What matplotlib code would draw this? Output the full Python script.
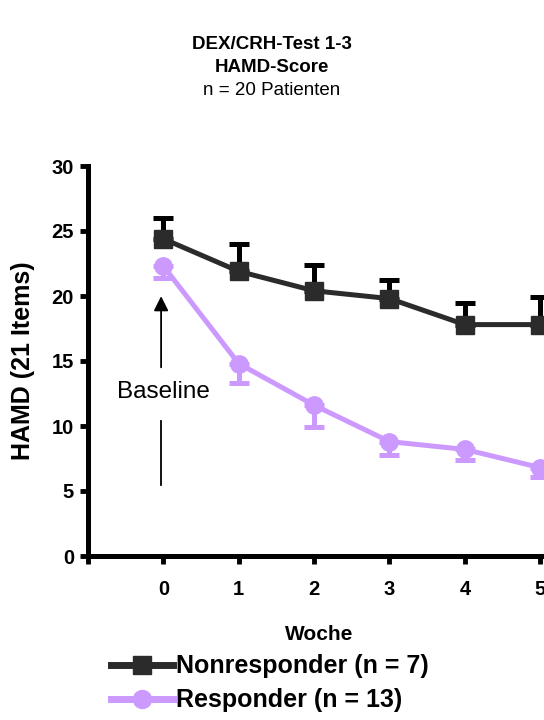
import matplotlib
matplotlib.use("Agg")
import matplotlib.pyplot as plt
from matplotlib.lines import Line2D

plt.rcParams['font.family'] = ['Liberation Sans', 'DejaVu Sans']

# data
weeks = [0, 1, 2, 3, 4, 5]
non_mean = [24.4, 21.9, 20.4, 19.8, 17.8, 17.8]
non_sem = [1.6, 2.1, 2.0, 1.4, 1.7, 2.1]
resp_mean = [22.3, 14.8, 11.6, 8.8, 8.2, 6.8]
resp_sem = [0.9, 1.5, 1.7, 1.0, 0.8, 0.7]
xtick_pos = [-1, 0, 1, 2, 3, 4, 5]
xtick_labels = ['', '0', '1', '2', '3', '4', '5']
ytick_pos = [0, 5, 10, 15, 20, 25, 30]

non_col = '#2b2b2b'
resp_col = '#cc99ff'

fig = plt.figure(figsize=(5.44, 7.2), dpi=100)
ax = fig.add_axes([88 / 544, 164 / 720, 462 / 544, 390 / 720])

zeros = [0] * len(weeks)
ax.errorbar(weeks, non_mean, yerr=[zeros, non_sem], color=non_col, ecolor='black',
            lw=3.6, elinewidth=3.6, capsize=7, capthick=3.6, marker='s', ms=12.5,
            clip_on=False, zorder=3)
ax.errorbar(weeks, resp_mean, yerr=[resp_sem, zeros], color=resp_col, ecolor=resp_col,
            lw=3.6, elinewidth=3.6, capsize=7, capthick=3.6, marker='o', ms=12.5,
            clip_on=False, zorder=4)

# baseline arrow
ax.annotate('', xy=(-0.03, 20.2), xytext=(-0.03, 14.3),
            arrowprops=dict(arrowstyle='-|>', color='black', lw=1.3, mutation_scale=22))
ax.plot([-0.03, -0.03], [5.5, 10.4], color='black', lw=1.3)
ax.text(0.0, 12.6, 'Baseline', ha='center', va='center', fontsize=17.5)

ax.set_xlim(-1, 5.13)
ax.set_ylim(0, 30)
ax.set_xticks(xtick_pos)
ax.set_xticklabels(xtick_labels)
ax.set_yticks(ytick_pos)
for lab in ax.get_xticklabels() + ax.get_yticklabels():
    lab.set_fontweight('bold')
    lab.set_fontsize(14.5)
ax.tick_params(axis='both', width=3.5, length=6, direction='out')
ax.tick_params(axis='x', pad=11)
ax.tick_params(axis='y', pad=4)
for s in ['top', 'right']:
    ax.spines[s].set_visible(False)
for s in ['left', 'bottom']:
    ax.spines[s].set_linewidth(3.6)

ax.set_xlabel('Woche', fontsize=15, fontweight='bold', labelpad=19)
ax.set_ylabel('HAMD (21 Items)', fontsize=18, fontweight='bold', labelpad=12)

fig.text(0.5, 1 - 49 / 720, 'DEX/CRH-Test 1-3', ha='center', va='baseline', fontsize=13.5, fontweight='bold')
fig.text(0.5, 1 - 72 / 720, 'HAMD-Score', ha='center', va='baseline', fontsize=13.5, fontweight='bold')
fig.text(0.5, 1 - 95 / 720, 'n = 20 Patienten', ha='center', va='baseline', fontsize=13.5)

handles = [
    Line2D([0], [0], color=non_col, lw=5, marker='s', ms=13),
    Line2D([0], [0], color=resp_col, lw=5, marker='o', ms=13),
]
leg = fig.legend(handles, ['Nonresponder (n = 7)', 'Responder (n = 13)'],
                 loc='upper left', bbox_to_anchor=(88 / 544, 1 - 632 / 720),
                 frameon=False, handlelength=2.5, handletextpad=0.1,
                 labelspacing=0.4, prop={'weight': 'bold', 'size': 18})

fig.savefig('out.png', dpi=100)
